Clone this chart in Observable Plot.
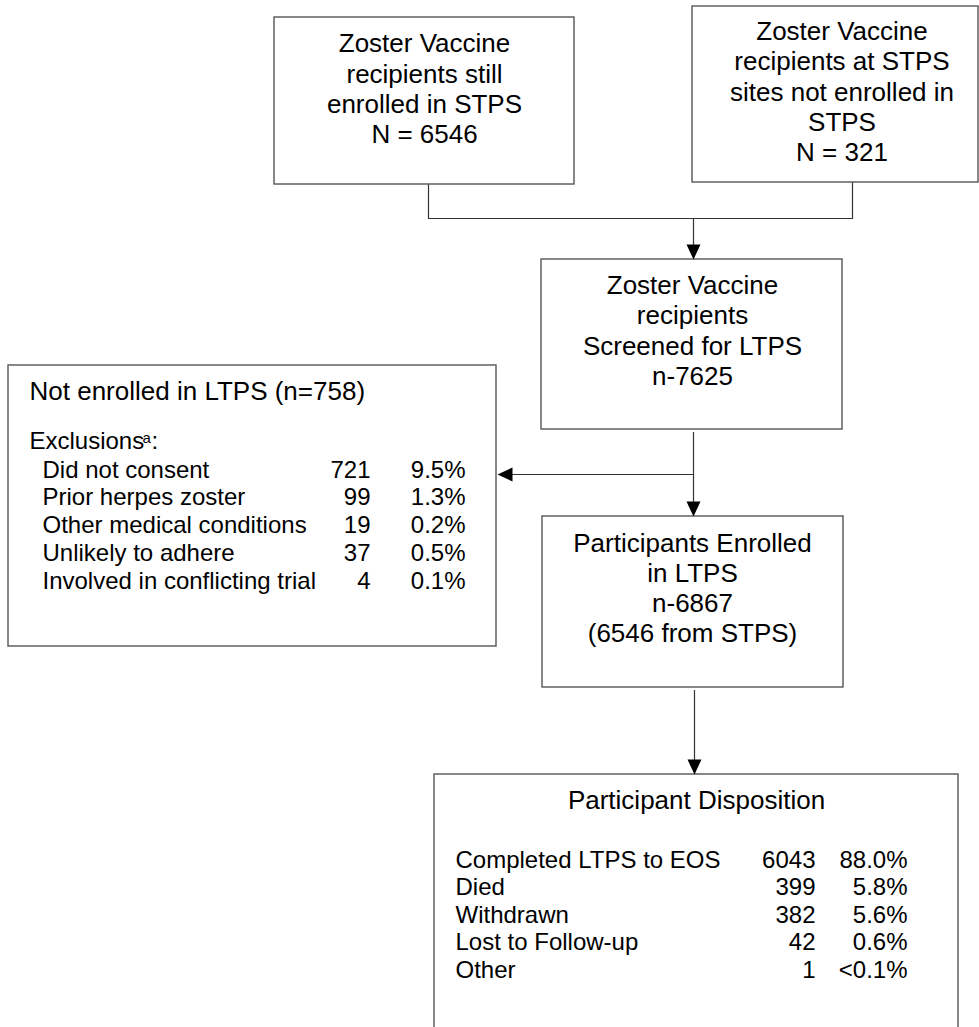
<!DOCTYPE html>
<html>
<head>
<meta charset="utf-8">
<script src="https://cdn.jsdelivr.net/npm/d3@7"></script>
<script src="https://cdn.jsdelivr.net/npm/@observablehq/plot@0.6"></script>
<style>
  html, body { margin: 0; padding: 0; background: #fff; overflow: hidden; width: 979px; height: 1027px; }
  #chart svg { display: block; }
</style>
</head>
<body>
<div id="chart"></div>
<script>
// ---------------- DATA ----------------
const stpsLines = ["Zoster Vaccine", "recipients still", "enrolled in STPS", "N = 6546"];
const nonStpsLines = ["Zoster Vaccine", "recipients at STPS", "sites not enrolled in", "STPS", "N = 321"];
const screenedLines = ["Zoster Vaccine", "recipients", "Screened for LTPS", "n-7625"];
const enrolledLines = ["Participants Enrolled", "in LTPS", "n-6867", "(6546 from STPS)"];

const notEnrolledTitle = "Not enrolled in LTPS (n=758)";
const exclusionsLabel = "Exclusions";
const exclusionsNote = "a";
const exclusionReasons = ["Did not consent", "Prior herpes zoster", "Other medical conditions", "Unlikely to adhere", "Involved in conflicting trial"];
const exclusionCounts = ["721", "99", "19", "37", "4"];
const exclusionPercents = ["9.5%", "1.3%", "0.2%", "0.5%", "0.1%"];

const dispositionTitle = "Participant Disposition";
const dispositionCategories = ["Completed LTPS to EOS", "Died", "Withdrawn", "Lost to Follow-up", "Other"];
const dispositionCounts = ["6043", "399", "382", "42", "1"];
const dispositionPercents = ["88.0%", "5.8%", "5.6%", "0.6%", "<0.1%"];

// ---------------- LAYOUT ----------------
const W = 979, H = 1027;
const FONT = "'Liberation Sans', Arial, Helvetica, sans-serif";

const layout = {
  stps:        {x1: 274, x2: 574, y1: 17,  y2: 184, cx: 424,   base: 51.7, step: 30.3},
  nonStps:     {x1: 692, x2: 978, y1: 6,   y2: 182, cx: 841.5, base: 39.5, step: 30.3},
  screened:    {x1: 541, x2: 842, y1: 259, y2: 429, cx: 692,   base: 293.3, step: 30.4},
  enrolled:    {x1: 542, x2: 843, y1: 516, y2: 687, cx: 692,   base: 551, step: 30.3},
  excluded:    {x1: 8,   x2: 496, y1: 365, y2: 646},
  disposition: {x1: 434, x2: 958, y1: 774, y2: 1060}
};

const boxes = Object.entries(layout).map(([id, b]) => ({id, x1: b.x1, x2: b.x2, y1: b.y1, y2: b.y2}));

// centred box texts
const centredText = [];
[["stps", stpsLines], ["nonStps", nonStpsLines], ["screened", screenedLines], ["enrolled", enrolledLines]].forEach(([id, lines]) => {
  const b = layout[id];
  lines.forEach((t, i) => centredText.push({x: b.cx, y: b.base + i * b.step, text: t}));
});
centredText.push({x: 696, y: 808, text: dispositionTitle});

// exclusion table
const exRowBase = 477, exRowStep = 27.75;
const exRows = exclusionReasons.map((r, i) => ({
  label: r, count: exclusionCounts[i], pct: exclusionPercents[i], y: exRowBase + i * exRowStep
}));

// disposition table
const dRowBase = 867, dRowStep = 27.5;
const dRows = dispositionCategories.map((c, i) => ({
  label: c, count: dispositionCounts[i], pct: dispositionPercents[i], y: dRowBase + i * dRowStep
}));

// connector polylines
const connectors = [
  {id: "merge", pts: [[428, 184], [428, 218], [852, 218], [852, 182]]},
  {id: "toScreened", pts: [[693, 218], [693, 250]]},
  {id: "toEnrolled", pts: [[693, 432], [693, 505]]},
  {id: "toExcluded", pts: [[693, 474], [505, 474]]},
  {id: "toDisposition", pts: [[694, 690], [694, 764]]}
];
const connectorPoints = connectors.flatMap(c => c.pts.map(([x, y]) => ({id: c.id, x, y})));

// arrow heads (tip positions)
const downTips = [{x: 693, y: 259}, {x: 693, y: 516}, {x: 694, y: 774}];
const leftTips = [{x: 497, y: 474}];

const arrowDown = {draw(ctx) { ctx.moveTo(0, 0); ctx.lineTo(-7, -15); ctx.lineTo(7, -15); ctx.closePath(); }};
const arrowLeft = {draw(ctx) { ctx.moveTo(0, 0); ctx.lineTo(15, -7); ctx.lineTo(15, 7); ctx.closePath(); }};

const boxStroke = "#555";
const lineStroke = "#333";

const chart = Plot.plot({
  width: W,
  height: H,
  margin: 0,
  x: {domain: [0, W], range: [0, W], axis: null},
  y: {domain: [0, H], range: [0, H], axis: null},
  style: {fontFamily: FONT, background: "white", color: "black"},
  marks: [
    Plot.line(connectorPoints, {x: "x", y: "y", z: "id", stroke: lineStroke, strokeWidth: 1.2}),
    Plot.rect(boxes, {x1: "x1", x2: "x2", y1: "y1", y2: "y2", fill: "white", stroke: boxStroke, strokeWidth: 1.4}),
    Plot.dot(downTips, {x: "x", y: "y", symbol: arrowDown, fill: "black", stroke: "none", r: 5}),
    Plot.dot(leftTips, {x: "x", y: "y", symbol: arrowLeft, fill: "black", stroke: "none", r: 5}),
    Plot.text(centredText, {x: "x", y: "y", text: "text", fontSize: 26, textAnchor: "middle", lineAnchor: "bottom", fill: "black"}),
    // not-enrolled box
    Plot.text([notEnrolledTitle], {x: 29, y: 399, text: d => d, fontSize: 26, textAnchor: "start", lineAnchor: "bottom", fill: "black"}),
    Plot.text([exclusionsLabel], {x: 29, y: 448, text: d => d, fontSize: 24, textAnchor: "start", lineAnchor: "bottom", fill: "black"}),
    Plot.text([exclusionsNote], {x: 142, y: 442, text: d => d, fontSize: 15, textAnchor: "start", lineAnchor: "bottom", fill: "black"}),
    Plot.text([":"], {x: 151, y: 448, text: d => d, fontSize: 24, textAnchor: "start", lineAnchor: "bottom", fill: "black"}),
    Plot.text(exRows, {x: 42, y: "y", text: "label", fontSize: 24, textAnchor: "start", lineAnchor: "bottom", fill: "black"}),
    Plot.text(exRows, {x: 370, y: "y", text: "count", fontSize: 24, textAnchor: "end", lineAnchor: "bottom", fill: "black"}),
    Plot.text(exRows, {x: 465, y: "y", text: "pct", fontSize: 24, textAnchor: "end", lineAnchor: "bottom", fill: "black"}),
    // disposition box
    Plot.text(dRows, {x: 455, y: "y", text: "label", fontSize: 24, textAnchor: "start", lineAnchor: "bottom", fill: "black"}),
    Plot.text(dRows, {x: 815, y: "y", text: "count", fontSize: 24, textAnchor: "end", lineAnchor: "bottom", fill: "black"}),
    Plot.text(dRows, {x: 907, y: "y", text: "pct", fontSize: 24, textAnchor: "end", lineAnchor: "bottom", fill: "black"})
  ]
});

document.getElementById("chart").appendChild(chart);
</script>
</body>
</html>
